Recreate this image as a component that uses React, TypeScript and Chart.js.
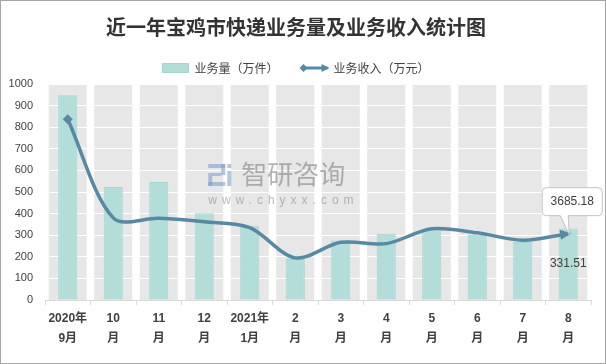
import React, { useEffect, useRef } from "react";
import { Chart, registerables } from "chart.js";

Chart.register(...registerables);

const chartTitle = "近一年宝鸡市快递业务量及业务收入统计图";
const categories = [
  "2020年9月", "2020年10月", "2020年11月", "2020年12月", "2021年1月", "2021年2月",
  "2021年3月", "2021年4月", "2021年5月", "2021年6月", "2021年7月", "2021年8月",
];
const tickLabels = [
  ["2020年", "9月"], ["10", "月"], ["11", "月"], ["12", "月"], ["2021年", "1月"], ["2", "月"],
  ["3", "月"], ["4", "月"], ["5", "月"], ["6", "月"], ["7", "月"], ["8", "月"],
];
const volumeName = "业务量（万件）";
const revenueName = "业务收入（万元）";
const volume = [948, 523, 546, 402, 344, 190, 275, 307, 327, 302, 268, 331.51];
const revenue = [10044, 4560, 4536, 4344, 4020, 2340, 3204, 3132, 3960, 3732, 3324, 3685.18];
const volumeTicks = [0, 100, 200, 300, 400, 500, 600, 700, 800, 900, 1000];
const annotatedIndex = 11;
const watermarkName = "智研咨询";
const watermarkUrl = "www.chyxx.com";

const FONT = "'Liberation Sans', 'Noto Sans CJK SC', sans-serif";
const CJK = "'Noto Sans CJK SC', 'Liberation Sans', sans-serif";
const BAR_FILL = "#b2ddd9";
const BAR_BORDER = "#a2d6d0";
const LINE = "#5889a2";
const BAND = "#e7e7e7";
const TEXT = "#404040";

function arrowHead(ctx: CanvasRenderingContext2D, tx: number, ty: number, dx: number, dy: number, len: number, half: number) {
  const n = Math.hypot(dx, dy) || 1;
  const ux = dx / n, uy = dy / n;
  const bx = tx - ux * len, by = ty - uy * len;
  ctx.beginPath();
  ctx.moveTo(tx, ty);
  ctx.lineTo(bx - uy * half, by + ux * half);
  ctx.lineTo(bx + uy * half, by - ux * half);
  ctx.closePath();
  ctx.fill();
}

const bandsPlugin = {
  id: "bands",
  beforeDraw(chart: any) {
    const { ctx, chartArea, scales } = chart;
    const x = scales.x;
    const step = x.width / categories.length;
    const bw = step * 0.836;
    ctx.save();
    ctx.fillStyle = BAND;
    categories.forEach((_, i) => {
      const cx = x.getPixelForValue(i);
      ctx.fillRect(cx - bw / 2, chartArea.top, bw, chartArea.bottom - chartArea.top);
    });
    ctx.restore();
  },
};

const overlayPlugin = {
  id: "overlay",
  afterDatasetsDraw(chart: any) {
    const { ctx } = chart;
    const lineMeta = chart.getDatasetMeta(1);
    const barMeta = chart.getDatasetMeta(0);
    ctx.save();

    // watermark
    const wx = (chart.scales.x.getPixelForValue(4) + chart.scales.x.getPixelForValue(6)) / 2;
    ctx.fillStyle = "rgba(120,120,120,0.55)";
    ctx.font = `26px ${CJK}`;
    ctx.textAlign = "left";
    ctx.textBaseline = "middle";
    ctx.fillText(watermarkName, wx - 54, 173);
    ctx.fillStyle = "rgba(140,140,140,0.6)";
    ctx.font = `12px ${FONT}`;
    (ctx as any).letterSpacing = "5px";
    ctx.fillText(watermarkUrl, wx - 87, 200);
    (ctx as any).letterSpacing = "0px";
    ctx.fillStyle = "rgba(120,155,200,0.55)";
    const lx = wx - 87, ly = 163;
    ctx.fillRect(lx, ly, 17, 4);
    ctx.fillRect(lx + 13, ly, 4, 11);
    ctx.fillRect(lx, ly + 9, 13, 3);
    ctx.fillRect(lx, ly + 12, 4, 10);
    ctx.fillRect(lx, ly + 18, 17, 4);
    ctx.fillRect(lx + 19, ly, 4, 4);
    ctx.fillRect(lx + 19, ly + 7, 4, 15);

    // arrow at the end of the line
    const pts = lineMeta.data;
    const last = pts[pts.length - 1];
    const dx = last.x - last.cp1x;
    const dy = last.y - last.cp1y;
    const n = Math.hypot(dx, dy) || 1;
    ctx.fillStyle = LINE;
    arrowHead(ctx, last.x + (dx / n) * 3, last.y + (dy / n) * 3, dx, dy, 11, 5);

    // bar value label
    const bar = barMeta.data[annotatedIndex];
    ctx.fillStyle = TEXT;
    ctx.font = `12px ${FONT}`;
    ctx.textAlign = "center";
    ctx.textBaseline = "middle";
    ctx.fillText(volume[annotatedIndex].toFixed(2), bar.x, (bar.y + bar.base) / 2);

    // callout for line value
    const p = pts[annotatedIndex];
    const bl = p.x - 26, bt = p.y - 46, bwid = 60, bh = 28, r = 4;
    const bb = bt + bh, br = bl + bwid;
    ctx.beginPath();
    ctx.moveTo(bl + r, bt);
    ctx.lineTo(br - r, bt);
    ctx.arcTo(br, bt, br, bt + r, r);
    ctx.lineTo(br, bb - r);
    ctx.arcTo(br, bb, br - r, bb, r);
    ctx.lineTo(p.x, bb);
    ctx.lineTo(p.x + 1, p.y + 1);
    ctx.lineTo(p.x - 8, bb);
    ctx.lineTo(bl + r, bb);
    ctx.arcTo(bl, bb, bl, bb - r, r);
    ctx.lineTo(bl, bt + r);
    ctx.arcTo(bl, bt, bl + r, bt, r);
    ctx.closePath();
    ctx.fillStyle = "#ffffff";
    ctx.fill();
    ctx.strokeStyle = "#c4c4c4";
    ctx.lineWidth = 1;
    ctx.stroke();
    ctx.fillStyle = TEXT;
    ctx.fillText(revenue[annotatedIndex].toFixed(2), bl + bwid / 2, bt + bh / 2);
    ctx.restore();
  },
  afterDraw(chart: any) {
    const { ctx } = chart;
    const hb = chart.legend && chart.legend.legendHitBoxes && chart.legend.legendHitBoxes[1];
    if (!hb) return;
    const cy = hb.top + 6;
    const x0 = hb.left, x1 = hb.left + 26;
    ctx.save();
    ctx.fillStyle = LINE;
    arrowHead(ctx, x1 + 2, cy, 1, 0, 8, 4);
    ctx.beginPath();
    ctx.moveTo(x0 - 2, cy);
    ctx.lineTo(x0 + 2, cy - 4);
    ctx.lineTo(x0 + 6, cy);
    ctx.lineTo(x0 + 2, cy + 4);
    ctx.closePath();
    ctx.fill();
    ctx.restore();
  },
};

export default function App() {
  const ref = useRef<HTMLCanvasElement | null>(null);

  useEffect(() => {
    if (!ref.current) return;
    const chart = new Chart(ref.current, {
      type: "bar",
      data: {
        labels: categories,
        datasets: [
          {
            type: "bar",
            label: volumeName,
            data: volume,
            backgroundColor: BAR_FILL,
            borderColor: BAR_BORDER,
            borderWidth: 1,
            barPercentage: 0.42,
            categoryPercentage: 1,
            yAxisID: "y",
            order: 1,
          },
          {
            type: "line",
            label: revenueName,
            data: revenue,
            borderColor: LINE,
            backgroundColor: LINE,
            borderWidth: 3.5,
            tension: 0.32,
            pointStyle: "rectRot",
            pointRadius: (c: any) => (c.dataIndex === 0 ? 5 : 0),
            pointBorderWidth: 0,
            yAxisID: "y1",
            order: 0,
          } as any,
        ],
      },
      options: {
        responsive: false,
        animation: false,
        layout: { padding: { left: 0, right: 14, top: 0, bottom: 0 } },
        plugins: {
          title: {
            display: true,
            text: chartTitle,
            color: "#333333",
            font: { family: CJK, size: 20, weight: "bold", lineHeight: 1.2 },
            padding: { top: 14, bottom: 0 },
          },
          legend: {
            display: true,
            position: "top",
            labels: {
              usePointStyle: true,
              pointStyleWidth: 26,
              boxHeight: 9,
              padding: 23,
              color: TEXT,
              font: { family: CJK, size: 12 },
              generateLabels: () => [
                { text: volumeName, fillStyle: BAR_FILL, strokeStyle: BAR_BORDER, lineWidth: 1, pointStyle: "rect", hidden: false, datasetIndex: 0, fontColor: TEXT } as any,
                { text: revenueName, fillStyle: LINE, strokeStyle: LINE, lineWidth: 3, pointStyle: "line", hidden: false, datasetIndex: 1, fontColor: TEXT } as any,
              ],
            },
          },
          tooltip: { enabled: false },
        },
        scales: {
          x: {
            offset: true,
            grid: { display: true, drawOnChartArea: false, drawTicks: true, tickLength: 5, color: "#d9d9d9", offset: true },
            border: { display: true, color: "#d9d9d9" },
            ticks: {
              color: TEXT,
              font: { family: FONT, size: 12, weight: "bold", lineHeight: 1.667 },
              padding: 4,
              maxRotation: 0,
              autoSkip: false,
              callback: (_v: any, i: number) => tickLabels[i],
            },
            afterFit: (s: any) => { s.height = 63; },
          },
          y: {
            position: "left",
            min: 0,
            max: 1000,
            afterBuildTicks: (s: any) => { s.ticks = volumeTicks.map((v) => ({ value: v })); },
            ticks: { color: TEXT, font: { family: FONT, size: 11 }, padding: 12, callback: (v: any) => String(v) },
            grid: { color: "#ffffff", lineWidth: 1, drawTicks: false },
            border: { display: false },
            afterFit: (s: any) => { s.width = 44; },
          },
          y1: { display: false, position: "right", min: 0, max: 12000 },
        },
      } as any,
      plugins: [bandsPlugin, overlayPlugin],
    });
    return () => chart.destroy();
  }, []);

  return (
    <div
      style={{
        position: "absolute",
        left: 0,
        top: 0,
        width: 606,
        height: 364,
        boxSizing: "border-box",
        border: "1px solid #a6a6a6",
        background: "#ffffff",
      }}
    >
      <canvas ref={ref} width={604} height={362} style={{ display: "block" }} />
    </div>
  );
}
